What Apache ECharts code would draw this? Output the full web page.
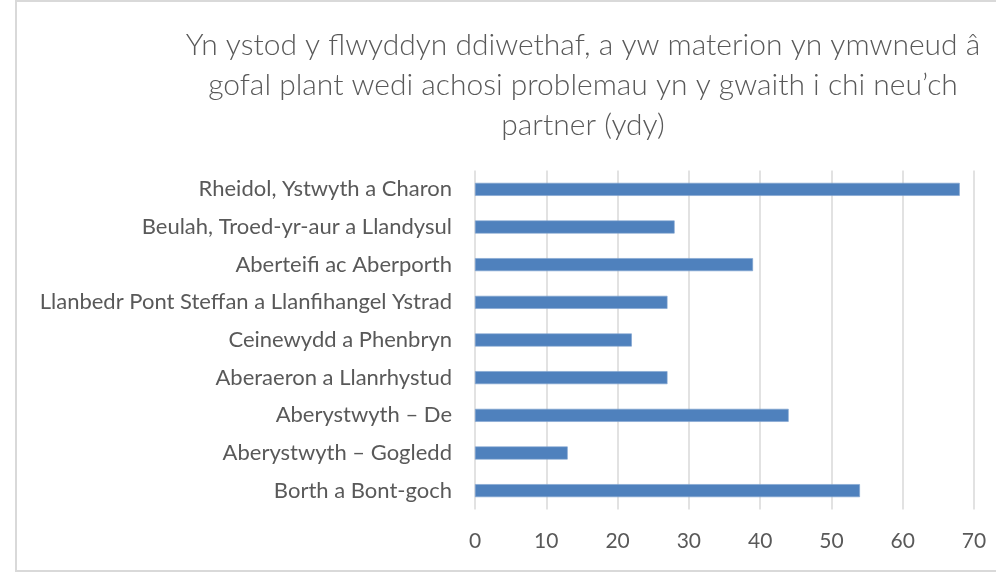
<!DOCTYPE html>
<html>
<head>
<meta charset="utf-8">
<script src="https://cdn.jsdelivr.net/npm/echarts@6/dist/echarts.min.js"></script>
<style>
  html, body { margin: 0; padding: 0; background: #ffffff; }
  #chart { width: 996px; height: 574px; }
</style>
</head>
<body>
<div id="chart"></div>
<script>
// Wards, listed top to bottom
const wards = [
  'Rheidol, Ystwyth a Charon',
  'Beulah, Troed-yr-aur a Llandysul',
  'Aberteifi ac Aberporth',
  'Llanbedr Pont Steffan a Llanfihangel Ystrad',
  'Ceinewydd a Phenbryn',
  'Aberaeron a Llanrhystud',
  'Aberystwyth \u2013 De',
  'Aberystwyth \u2013 Gogledd',
  'Borth a Bont-goch'
];
// Responses answering "ydy"
const ydyValues = [68, 28, 39, 27, 22, 27, 44, 13, 54];
const titleLines = [
  'Yn ystod y flwyddyn ddiwethaf, a yw materion yn ymwneud \u00e2',
  'gofal plant wedi achosi problemau yn y gwaith i chi neu\u2019ch',
  'partner (ydy)'
];
const axisMin = 0, axisMax = 70, axisStep = 10;

const chart = echarts.init(document.getElementById('chart'), null, { renderer: 'canvas' });
const textColor = '#595959';
const gridColor = '#d9d9d9';

chart.setOption({
  animation: false,
  backgroundColor: '#ffffff',
  title: {
    text: titleLines.join('\n'),
    left: 578,
    top: 20,
    textAlign: 'center',
    textStyle: {
      fontFamily: 'Lato',
      fontWeight: 300,
      fontSize: 30,
      lineHeight: 40,
      color: textColor
    }
  },
  graphic: [{
    type: 'rect',
    shape: { x: 16, y: 1, width: 1000, height: 570 },
    style: { fill: 'none', stroke: gridColor, lineWidth: 2 },
    silent: true,
    z: -1
  }],
  grid: {
    left: 475,
    right: 22,
    top: 170.5,
    bottom: 64.5,
    containLabel: false
  },
  xAxis: {
    type: 'value',
    min: axisMin,
    max: axisMax,
    interval: axisStep,
    axisLine: { show: false },
    axisTick: { show: false },
    axisLabel: {
      margin: 21,
      fontFamily: 'Lato',
      fontSize: 21,
      color: textColor
    },
    splitLine: { show: true, lineStyle: { color: gridColor, width: 1.5 } }
  },
  yAxis: {
    type: 'category',
    data: wards,
    inverse: true,
    axisLine: { show: false },
    axisTick: { show: false },
    axisLabel: {
      margin: 23,
      fontFamily: 'Lato',
      fontSize: 22,
      color: textColor
    }
  },
  series: [{
    type: 'bar',
    data: ydyValues,
    barWidth: 13,
    itemStyle: { color: '#4f81bd', borderColor: '#7fa3d0', borderWidth: 0.6 }
  }]
});
</script>
</body>
</html>
